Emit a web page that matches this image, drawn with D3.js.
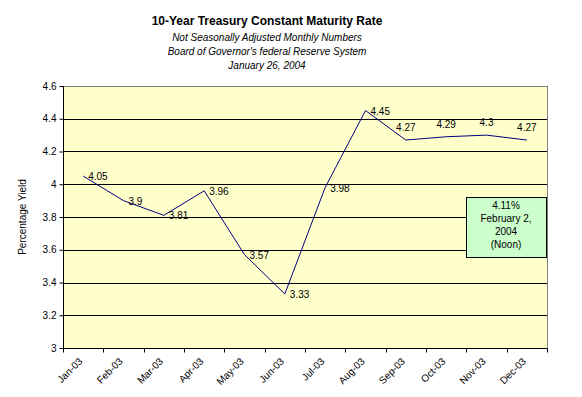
<!DOCTYPE html>
<html>
<head>
<meta charset="utf-8">
<script src="https://cdn.jsdelivr.net/npm/d3@7"></script>
<style>
    body { margin: 0; background: #fff; }
    text { font-family: "Liberation Sans", Arial, sans-serif; }
</style>
</head>
<body>
<svg id="chart" width="582" height="397"></svg>
<script>
'use strict';

// Chart data
var months = ['Jan-03', 'Feb-03', 'Mar-03', 'Apr-03', 'May-03', 'Jun-03',
              'Jul-03', 'Aug-03', 'Sep-03', 'Oct-03', 'Nov-03', 'Dec-03'];
var yields = [4.05, 3.9, 3.81, 3.96, 3.57, 3.33, 3.98, 4.45, 4.27, 4.29, 4.3, 4.27];
var yTicks = [3, 3.2, 3.4, 3.6, 3.8, 4, 4.2, 4.4, 4.6];
var titleLines = ['Not Seasonally Adjusted Monthly Numbers',
                  "Board of Governor's federal Reserve System",
                  'January 26, 2004'];
var noteLines = ['4.11%', 'February 2,', '2004', '(Noon)'];

// Plot area bounds
var plotLeft = 63,
    plotRight = 547,
    plotTop = 86,
    plotBottom = 348;

function drawChart() {
    var svg = d3.select('#chart');

    var x = d3.scaleBand()
        .domain(months)
        .range([plotLeft, plotRight]);

    var y = d3.scaleLinear()
        .domain([3, 4.6])
        .range([plotBottom, plotTop]);

    // Plot background
    svg.append('rect')
        .attr('x', plotLeft + 0.5)
        .attr('y', plotTop + 0.5)
        .attr('width', plotRight - plotLeft)
        .attr('height', plotBottom - plotTop)
        .attr('fill', '#ffffcc')
        .attr('stroke', '#808080')
        .attr('stroke-width', 1);

    // Gridlines
    svg.append('g')
        .selectAll('line')
        .data(yTicks.slice(1, -1))
        .join('line')
        .attr('x1', plotLeft)
        .attr('x2', plotRight)
        .attr('y1', function (d) { return Math.round(y(d)) + 0.5; })
        .attr('y2', function (d) { return Math.round(y(d)) + 0.5; })
        .attr('stroke', '#000')
        .attr('stroke-width', 1);

    // Axes
    var yAxis = d3.axisLeft(y)
        .tickValues(yTicks)
        .tickSize(4)
        .tickPadding(3)
        .tickFormat(function (d) { return String(+d.toFixed(1)); });

    var gy = svg.append('g')
        .attr('transform', 'translate(' + (plotLeft + 0.5) + ',0)')
        .call(yAxis);
    gy.select('.domain').attr('d', 'M0,' + plotTop + 'V' + plotBottom);
    gy.selectAll('text').attr('font-size', 10).attr('fill', '#000');
    gy.attr('font-family', null);

    var xAxis = d3.axisBottom(x)
        .tickSize(0)
        .tickFormat('');

    var gx = svg.append('g')
        .attr('transform', 'translate(0,' + (plotBottom + 0.5) + ')')
        .call(xAxis);
    gx.select('.domain').attr('d', 'M' + plotLeft + ',0H' + plotRight);

    // Category boundary ticks
    gx.append('g')
        .selectAll('line')
        .data(months.concat(['end']))
        .join('line')
        .attr('x1', function (d, i) { return Math.round(plotLeft + i * x.step()) + 0.5; })
        .attr('x2', function (d, i) { return Math.round(plotLeft + i * x.step()) + 0.5; })
        .attr('y1', 0)
        .attr('y2', 4)
        .attr('stroke', '#000');

    // Rotated month labels
    svg.append('g')
        .selectAll('text')
        .data(months)
        .join('text')
        .attr('transform', function (d) {
            return 'translate(' + (x(d) + x.bandwidth() / 2 - 5) + ',' + (plotBottom + 9) + ') rotate(-45)';
        })
        .attr('text-anchor', 'end')
        .attr('dy', '0.7em')
        .attr('font-size', 10)
        .text(function (d) { return d; });

    // The yield line
    var line = d3.line()
        .x(function (d, i) { return x(months[i]) + x.bandwidth() / 2; })
        .y(function (d) { return y(d); });

    svg.append('path')
        .datum(yields)
        .attr('d', line)
        .attr('fill', 'none')
        .attr('stroke', '#000080')
        .attr('stroke-width', 1);

    // Data labels: right of the point for the first months, above later on
    svg.append('g')
        .selectAll('text')
        .data(yields)
        .join('text')
        .attr('x', function (d, i) {
            var cx = x(months[i]) + x.bandwidth() / 2;
            return i < 8 ? cx + 5 : cx;
        })
        .attr('y', function (d, i) { return i < 8 ? y(d) + 4 : y(d) - 9; })
        .attr('text-anchor', function (d, i) { return i < 8 ? 'start' : 'middle'; })
        .attr('font-size', 10)
        .text(function (d) { return d; });

    // Callout box
    var note = svg.append('g');
    note.append('rect')
        .attr('x', 466.5)
        .attr('y', 197.5)
        .attr('width', 80)
        .attr('height', 60)
        .attr('fill', '#ccffcc')
        .attr('stroke', '#000');
    note.selectAll('text')
        .data(noteLines)
        .join('text')
        .attr('x', 506)
        .attr('y', function (d, i) { return 209 + i * 13; })
        .attr('text-anchor', 'middle')
        .attr('font-size', 10)
        .text(function (d) { return d; });

    // Titles
    svg.append('text')
        .attr('x', 267)
        .attr('y', 25)
        .attr('text-anchor', 'middle')
        .attr('font-size', 12)
        .attr('font-weight', 'bold')
        .text('10-Year Treasury Constant Maturity Rate');

    svg.append('g')
        .selectAll('text')
        .data(titleLines)
        .join('text')
        .attr('x', 267)
        .attr('y', function (d, i) { return 41 + i * 14; })
        .attr('text-anchor', 'middle')
        .attr('font-size', 10)
        .attr('font-style', 'italic')
        .text(function (d) { return d; });

    // Y axis title
    svg.append('text')
        .attr('transform', 'translate(26,' + ((plotTop + plotBottom) / 2) + ') rotate(-90)')
        .attr('text-anchor', 'middle')
        .attr('font-size', 10)
        .text('Percentage Yield');
}

drawChart();
</script>
</body>
</html>
